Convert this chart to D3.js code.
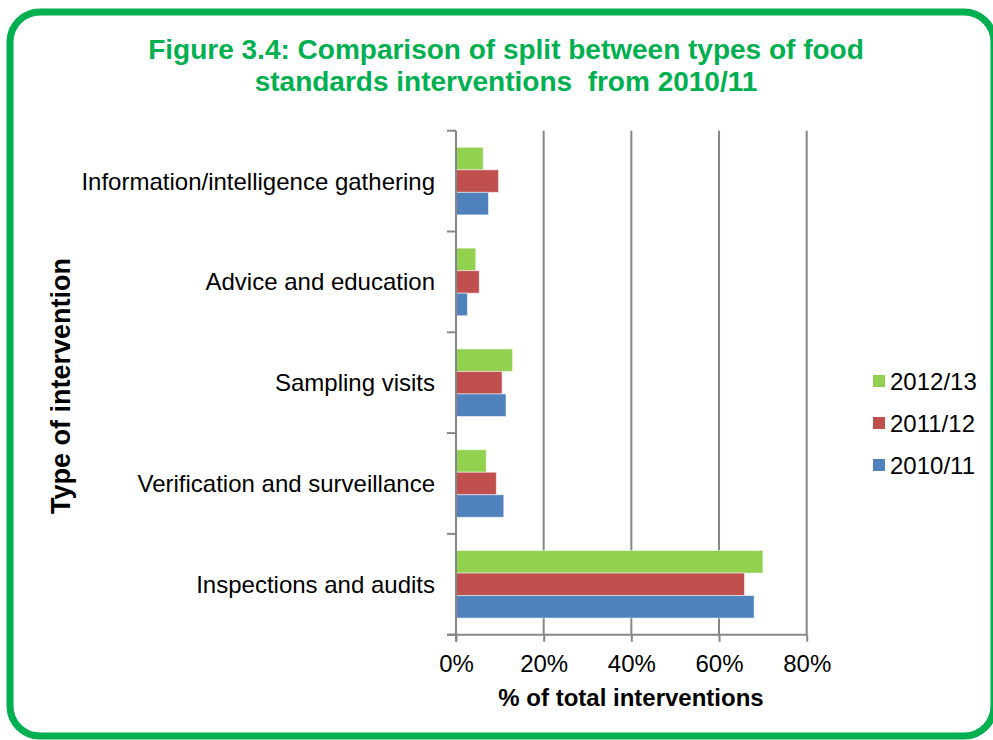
<!DOCTYPE html>
<meta charset="utf-8">
<title>food standards interventions</title>
<style>
    body { margin: 0; background: #fff; }
    text { font-family: "Liberation Sans", Arial, sans-serif; }
</style>
<body>
<script src="https://cdn.jsdelivr.net/npm/d3@7"></script>
<script>
    // chart data
    var categories = ["Information/intelligence gathering", "Advice and education",
                      "Sampling visits", "Verification and surveillance", "Inspections and audits"];
    var years = ["2012/13", "2011/12", "2010/11"];
    var colors = ["#92D050", "#C0504D", "#4F81BD"];
    var v2012 = [6.2, 4.5, 12.9, 6.9, 70.0];
    var v2011 = [9.7, 5.3, 10.5, 9.2, 65.8];
    var v2010 = [7.4, 2.6, 11.4, 10.9, 68.0];
    var xTicks = [0, 20, 40, 60, 80];

    var series = [v2012, v2011, v2010];

    var width = 993, height = 740;
    var plotLeft = 456, plotRight = 806.7, plotTop = 130.7, plotBottom = 634.7;

    var svg = d3.select("body").append("svg")
        .attr("width", width)
        .attr("height", height);

    // green rounded frame
    svg.append("rect")
        .attr("x", 10).attr("y", 12)
        .attr("width", 984).attr("height", 724)
        .attr("rx", 30).attr("ry", 30)
        .style("fill", "none")
        .style("stroke", "#00B050")
        .style("stroke-width", 7);

    // title
    var title = svg.append("text")
        .attr("text-anchor", "middle")
        .style("fill", "#00B050")
        .style("font-weight", "bold")
        .style("font-size", "28px");
    title.append("tspan").attr("x", 506).attr("y", 58.5)
        .text("Figure 3.4: Comparison of split between types of food");
    title.append("tspan").attr("x", 506).attr("y", 91)
        .text("standards interventions\u00a0 from 2010/11");

    var x = d3.scaleLinear().domain([0, 80]).range([plotLeft, plotRight]);
    var y = d3.scaleBand().domain(categories).range([plotTop, plotBottom]).paddingInner(0.33).paddingOuter(0.165);
    var yInner = d3.scaleBand().domain(years).range([0, y.bandwidth()]);

    // gridlines
    svg.append("g").selectAll("line")
        .data(xTicks.slice(1))
        .enter().append("line")
        .attr("x1", d => x(d)).attr("x2", d => x(d))
        .attr("y1", plotTop).attr("y2", plotBottom)
        .style("stroke", "#868686")
        .style("stroke-width", 2);

    // bars
    var groups = svg.append("g").selectAll("g")
        .data(categories)
        .enter().append("g")
        .attr("transform", d => "translate(0," + y(d) + ")");

    groups.selectAll("rect")
        .data((d, i) => years.map((yr, j) => ({ year: yr, value: series[j][i], color: colors[j] })))
        .enter().append("rect")
        .attr("x", x(0))
        .attr("y", d => yInner(d.year))
        .attr("width", d => x(d.value) - x(0))
        .attr("height", yInner.bandwidth())
        .style("fill", d => d.color)
        .style("stroke", "rgba(255,255,255,0.5)")
        .style("stroke-width", 1);

    // x axis
    var xAxis = svg.append("g")
        .attr("transform", "translate(0," + plotBottom + ")")
        .call(d3.axisBottom(x).tickValues(xTicks).tickFormat(d => d + "%").tickSize(7).tickPadding(0));
    xAxis.select(".domain").style("stroke", "#868686").style("stroke-width", 2)
        .attr("d", "M" + (plotLeft - 9) + ",0H" + plotRight);
    xAxis.selectAll(".tick line").style("stroke", "#868686").style("stroke-width", 2);
    xAxis.selectAll("text")
        .attr("y", 37).attr("dy", null)
        .style("font-size", "24px")
        .style("font-family", "'Liberation Sans', Arial, sans-serif")
        .style("fill", "#000");

    // y axis
    var yAxis = svg.append("g")
        .attr("transform", "translate(" + plotLeft + ",0)")
        .call(d3.axisLeft(y).tickSize(0).tickPadding(21));
    yAxis.select(".domain").style("stroke", "#868686").style("stroke-width", 2)
        .attr("d", "M0," + plotTop + "V" + (plotBottom + 7));
    yAxis.selectAll("text")
        .attr("dy", null).attr("y", 8.5)
        .style("font-size", "24px")
        .style("font-family", "'Liberation Sans', Arial, sans-serif")
        .style("fill", "#000");

    // y axis ticks between the categories
    var step = (plotBottom - plotTop) / categories.length;
    yAxis.append("g").selectAll("line")
        .data(d3.range(categories.length + 1))
        .enter().append("line")
        .attr("x1", -9).attr("x2", 0)
        .attr("y1", d => plotTop + d * step).attr("y2", d => plotTop + d * step)
        .style("stroke", "#868686")
        .style("stroke-width", 2);

    // axis titles
    svg.append("text")
        .attr("x", 631).attr("y", 706)
        .attr("text-anchor", "middle")
        .style("font-size", "24px")
        .style("font-weight", "bold")
        .text("% of total interventions");

    svg.append("text")
        .attr("transform", "translate(70,386) rotate(-90)")
        .attr("text-anchor", "middle")
        .style("font-size", "27px")
        .style("font-weight", "bold")
        .text("Type of intervention");

    // legend
    var legend = svg.append("g").selectAll("g")
        .data(years)
        .enter().append("g")
        .attr("transform", (d, i) => "translate(873," + (381 + i * 42) + ")");
    legend.append("rect")
        .attr("x", 0).attr("y", -6)
        .attr("width", 12).attr("height", 12)
        .style("fill", (d, i) => colors[i]);
    legend.append("text")
        .attr("x", 17).attr("y", 8.5)
        .style("font-size", "24px")
        .text(d => d);
</script>
</body>
